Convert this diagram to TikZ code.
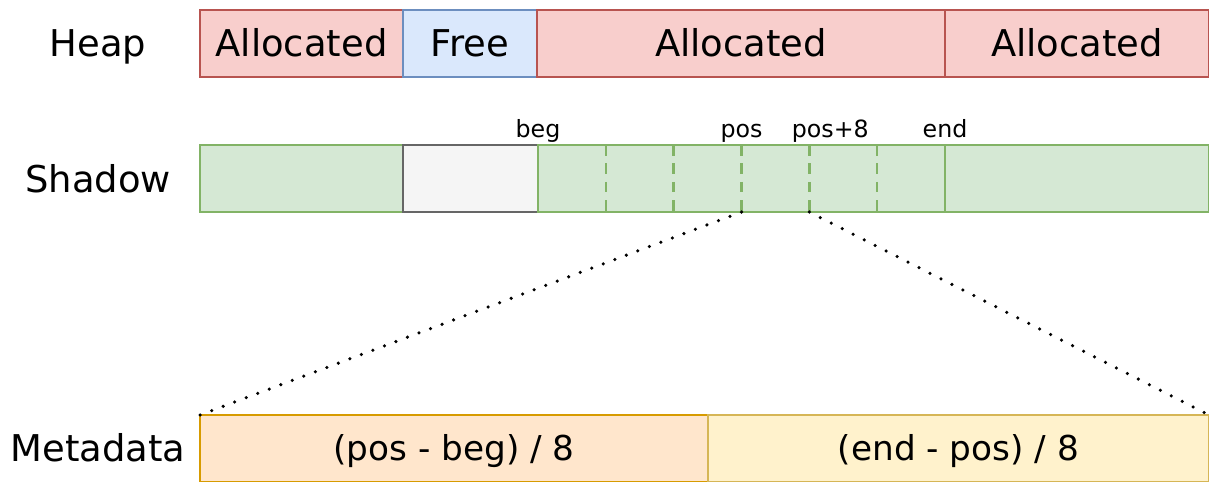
\documentclass[tikz,border=0pt]{standalone}
\usepackage{fontspec}
\setmainfont{DejaVu Sans}
\usetikzlibrary{positioning,calc}

\definecolor{allocfill}{HTML}{F8CECC}
\definecolor{allocline}{HTML}{B85450}
\definecolor{freefill}{HTML}{DAE8FC}
\definecolor{freeline}{HTML}{6C8EBF}
\definecolor{shfill}{HTML}{D5E8D4}
\definecolor{shline}{HTML}{82B366}
\definecolor{poisonfill}{HTML}{F5F5F5}
\definecolor{poisonline}{HTML}{666666}
\definecolor{metafillA}{HTML}{FFE6CC}
\definecolor{metalineA}{HTML}{D79B00}
\definecolor{metafillB}{HTML}{FFF2CC}
\definecolor{metalineB}{HTML}{D6B656}

\begin{document}
\begin{tikzpicture}[node distance=0pt,
  cell/.style={draw,line width=1.3pt,minimum height=1.34cm,inner sep=0pt,outer sep=0pt,
    text height=15.3pt,text depth=0pt,font=\fontsize{21}{25}\selectfont},
  alloc/.style={cell,fill=allocfill,draw=allocline},
  free/.style={cell,fill=freefill,draw=freeline},
  shcell/.style={cell,fill=shfill,draw=shline},
  poison/.style={cell,fill=poisonfill,draw=poisonline},
  metaA/.style={cell,fill=metafillA,draw=metalineA,text height=14.2pt,font=\fontsize{19.5}{23}\selectfont},
  metaB/.style={cell,fill=metafillB,draw=metalineB,text height=14.2pt,font=\fontsize{19.5}{23}\selectfont},
  rowlabel/.style={text height=15.3pt,text depth=0pt,font=\fontsize{21}{25}\selectfont},
  marker/.style={anchor=base,font=\fontsize{13.5}{16}\selectfont},
  zoomline/.style={line width=2pt,line cap=round,dash pattern=on 0pt off 7pt}]
\useasboundingbox (0,0) rectangle (24.18,-9.64);

% heap
\node (h1) [alloc,minimum width=4.06cm,anchor=north west] at (4.0,-0.2) {Allocated};
\node (h2) [free,minimum width=2.68cm,right=of h1] {Free};
\node (h3) [alloc,minimum width=8.16cm,right=of h2] {Allocated};
\node (h4) [alloc,minimum width=5.28cm,right=of h3] {Allocated};

% shadow memory
\node (s1) [shcell,minimum width=4.06cm,anchor=north west] at (4.0,-2.9) {};
\node (s2) [poison,minimum width=2.7cm,right=of s1] {};
\node (s3) [shcell,minimum width=8.14cm,right=of s2] {};
\node (s4) [shcell,minimum width=5.28cm,right=of s3] {};
\foreach \i in {1,...,5} {
  \coordinate (div\i) at ($(s3.south west)!\i/6!(s3.south east)$);
  \draw[shline,line width=1.4pt,dash pattern=on 6pt off 4.5pt] (div\i |- s3.north) -- (div\i);
}

\node (beg)  [marker] at ([yshift=0.16cm]s3.north west) {beg};
\node (pos)  [marker] at ([yshift=0.16cm]div3 |- s3.north) {pos};
\node (pos8) [marker] at ([xshift=0.42cm,yshift=0.16cm]div4 |- s3.north) {pos+8};
\node (end)  [marker] at ([yshift=0.16cm]s3.north east) {end};

% metadata
\node (m1) [metaA,minimum width=10.16cm,anchor=north west] at (4.0,-8.3) {(pos - beg) / 8};
\node (m2) [metaB,minimum width=10.02cm,right=of m1] {(end - pos) / 8};

\draw[zoomline] (div3) -- (m1.north west);
\draw[zoomline] (div4) -- (m2.north east);

\node (heap)   [rowlabel] at (1.96,-0.87) {Heap};
\node (shadow) [rowlabel] at (1.96,-3.58) {Shadow};
\node (meta)   [rowlabel] at (1.96,-8.97) {Metadata};
\end{tikzpicture}
\end{document}
